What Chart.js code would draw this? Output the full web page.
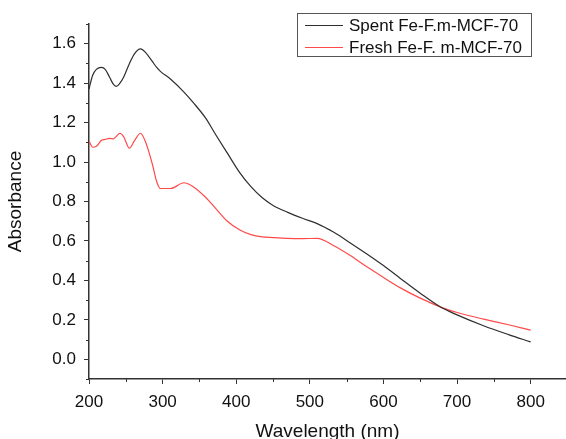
<!DOCTYPE html>
<html>
<head>
<meta charset="utf-8">
<script src="https://cdn.jsdelivr.net/npm/chart.js@4"></script>
<style>
  html, body { margin: 0; padding: 0; background: #fff; overflow: hidden; }
  #wrap { width: 566px; height: 447px; }
</style>
</head>
<body>
<div id="wrap"><canvas id="c" width="566" height="447"></canvas></div>
<script>
// ---- data ----
const wavelengths = [200, 205, 210, 217, 222, 228, 233, 237, 242, 247, 255, 262, 270, 277, 286, 292, 297, 311, 329, 342, 358, 372, 388, 405, 420, 435, 450, 470, 490, 510, 532, 555, 577, 600, 623, 650, 677, 700, 736, 770, 800];
const spentValues = [1.37, 1.44, 1.47, 1.48, 1.47, 1.43, 1.395, 1.384, 1.40, 1.43, 1.50, 1.55, 1.574, 1.555, 1.51, 1.48, 1.46, 1.42, 1.355, 1.30, 1.225, 1.14, 1.045, 0.945, 0.875, 0.82, 0.78, 0.745, 0.715, 0.688, 0.645, 0.59, 0.535, 0.475, 0.41, 0.335, 0.266, 0.225, 0.17, 0.125, 0.088];
const freshValues = [1.107, 1.075, 1.08, 1.11, 1.115, 1.12, 1.118, 1.13, 1.146, 1.129, 1.07, 1.11, 1.146, 1.10, 0.99, 0.90, 0.866, 0.866, 0.895, 0.874, 0.823, 0.765, 0.70, 0.655, 0.632, 0.621, 0.617, 0.613, 0.612, 0.613, 0.577, 0.526, 0.47, 0.415, 0.362, 0.31, 0.266, 0.237, 0.204, 0.175, 0.148];
const seriesLabels = ['Spent Fe-F.m-MCF-70', 'Fresh Fe-F. m-MCF-70'];
const xTickLabels = [200, 300, 400, 500, 600, 700, 800];
const xMinorTicks = [250, 350, 450, 550, 650, 750, 850];
const yTickLabels = [0.0, 0.2, 0.4, 0.6, 0.8, 1.0, 1.2, 1.4, 1.6];
const yMinorTicks = [-0.1, 0.1, 0.3, 0.5, 0.7, 0.9, 1.1, 1.3, 1.5, 1.7];

const FONT = "'Liberation Sans', Arial, sans-serif";
const AXIS = '#333333';
const H = 447;

const minorTicks = {
  id: 'minorTicks',
  afterDraw(chart) {
    const ctx = chart.ctx, x = chart.scales.x, y = chart.scales.y;
    ctx.save();
    ctx.strokeStyle = AXIS;
    ctx.lineWidth = 1;
    ctx.beginPath();
    xMinorTicks.forEach(v => {
      const px = Math.round(x.getPixelForValue(v)) + 0.5;
      if (px > chart.width) return;
      ctx.moveTo(px, y.bottom); ctx.lineTo(px, y.bottom + 3);
    });
    yMinorTicks.forEach(v => {
      const py = Math.round(y.getPixelForValue(v)) + 0.5;
      ctx.moveTo(x.left, py); ctx.lineTo(x.left - 3, py);
    });
    ctx.stroke();
    ctx.restore();
  }
};

const boxLegend = {
  id: 'boxLegend',
  afterDraw(chart) {
    const ctx = chart.ctx;
    const left = 297, top = 13, w = 234, h = 43;
    ctx.save();
    ctx.fillStyle = '#fff';
    ctx.fillRect(left, top, w, h);
    ctx.strokeStyle = '#555';
    ctx.lineWidth = 1;
    ctx.strokeRect(left + 0.5, top + 0.5, w, h);
    ctx.font = '17px ' + FONT;
    ctx.textBaseline = 'middle';
    chart.data.datasets.forEach((ds, i) => {
      const cy = top + 12 + i * 22;
      ctx.strokeStyle = ds.borderColor;
      ctx.lineWidth = 1.2;
      ctx.beginPath();
      ctx.moveTo(305, cy + 0.5); ctx.lineTo(343, cy + 0.5);
      ctx.stroke();
      ctx.fillStyle = '#111';
      ctx.fillText(ds.label, 349, cy + 1);
    });
    ctx.restore();
  }
};

new Chart(document.getElementById('c'), {
  type: 'line',
  data: {
    datasets: [
      { label: seriesLabels[0], data: wavelengths.map((w, i) => ({ x: w, y: spentValues[i] })),
        borderColor: '#2e2e2e', borderWidth: 1.2, pointRadius: 0, cubicInterpolationMode: 'monotone', fill: false },
      { label: seriesLabels[1], data: wavelengths.map((w, i) => ({ x: w, y: freshValues[i] })),
        borderColor: '#ff4a4a', borderWidth: 1.2, pointRadius: 0, cubicInterpolationMode: 'monotone', fill: false }
    ]
  },
  options: {
    responsive: false,
    animation: false,
    devicePixelRatio: 1,
    layout: { padding: { top: 24, right: 0, left: 0, bottom: 0 } },
    plugins: { legend: { display: false }, tooltip: { enabled: false } },
    scales: {
      x: {
        type: 'linear', min: 200, max: 848,
        afterFit(s) { s.height = H - 379; },
        afterBuildTicks(s) { s.ticks = xTickLabels.map(v => ({ value: v })); },
        grid: { drawOnChartArea: false, drawTicks: true, tickLength: 5, tickColor: AXIS, tickWidth: 1 },
        border: { display: true, color: AXIS, width: 1.5 },
        ticks: { color: '#111', font: { family: FONT, size: 17 }, padding: 8, maxRotation: 0, autoSkip: false },
        title: { display: true, text: 'Wavelength (nm)', color: '#111', font: { family: FONT, size: 19 }, padding: { top: 4, bottom: 4 } }
      },
      y: {
        type: 'linear', min: -0.1, max: 1.7,
        afterFit(s) { s.width = 89; },
        afterBuildTicks(s) { s.ticks = yTickLabels.map(v => ({ value: v })); },
        grid: { drawOnChartArea: false, drawTicks: true, tickLength: 5, tickColor: AXIS, tickWidth: 1 },
        border: { display: true, color: AXIS, width: 1.5 },
        ticks: { color: '#111', font: { family: FONT, size: 17 }, padding: 8, callback: v => Number(v).toFixed(1) },
        title: { display: true, text: 'Absorbance', color: '#111', font: { family: FONT, size: 19 }, padding: { top: 4, bottom: 4 } }
      }
    }
  },
  plugins: [minorTicks, boxLegend]
});
</script>
</body>
</html>
